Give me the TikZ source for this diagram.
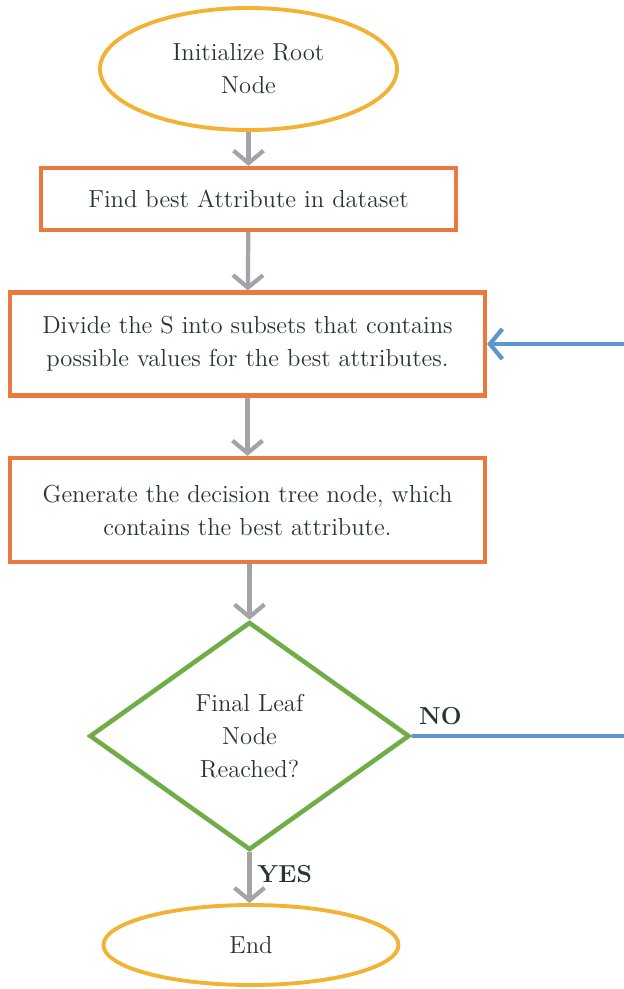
\documentclass[tikz,border=0pt]{standalone}
\usetikzlibrary{shapes.geometric,arrows.meta}

\definecolor{termcol}{HTML}{F2B233}
\definecolor{boxcol}{HTML}{E9793F}
\definecolor{deccol}{HTML}{70AD47}
\definecolor{flowcol}{HTML}{A3A3A8}
\definecolor{backcol}{HTML}{5B96CC}
\definecolor{txtcol}{HTML}{26382C}

\begin{document}
\begin{tikzpicture}[scale=1,
	every node/.style={text=txtcol, font=\rmfamily\fontsize{14}{18.8}\selectfont},
	term/.style={ellipse, draw=termcol, line width=2.2pt, inner sep=0pt, align=center},
	procbox/.style={rectangle, draw=boxcol, line width=2.4pt, align=center, minimum width=9.5cm, minimum height=2.06cm},
	decide/.style={diamond, draw=deccol, line width=2.6pt, inner sep=0pt, align=center, minimum width=6.4cm, minimum height=4.56cm},
	flow/.style={draw=flowcol, line width=2.4pt, -{Straight Barb[length=2.5mm,width=6mm,line width=2.4pt]}},
	back/.style={draw=backcol, line width=2.4pt, -{Straight Barb[length=2.5mm,width=6mm,line width=2.4pt]}}]

	\useasboundingbox (0,0) rectangle (12.48,-19.78);

	% nodes
	\node[term, minimum width=5.94cm, minimum height=2.44cm] (root) at (4.97,-1.38) {Initialize Root\\Node};
	\node[procbox, minimum width=8.3cm, minimum height=1.24cm] (find) at (4.97,-3.98) {Find best Attribute in dataset};
	\node[procbox] (divide) at (4.95,-6.88) {Divide the S into subsets that contains\\possible values for the best attributes.};
	\node[procbox, minimum height=2.08cm] (gen) at (4.95,-10.2) {Generate the decision tree node, which\\contains the best attribute.};
	\node[decide] (leaf) at (4.99,-14.72) {Final Leaf\\Node\\Reached?};
	\node[term, minimum width=5.9cm, minimum height=1.6cm] (stop) at (5.02,-18.9) {End};

	% arrows
	\draw[flow] (root) -- (find);
	\draw[flow] (find) -- (divide);
	\draw[flow] (divide) -- (gen);
	\draw[flow] (gen.south -| leaf.north) -- (leaf.north);
	\draw[flow] (leaf.south) -- node[right, font=\rmfamily\fontsize{14}{18.8}\selectfont\bfseries, yshift=2pt] (yes) {YES} (leaf.south |- stop.north);

	% loop back
	\draw[back] (leaf.east) -- node[pos=0.12, above, font=\rmfamily\fontsize{14}{18.8}\selectfont\bfseries, yshift=2pt] (no) {NO} (13,-14.72) |- (divide.east);

\end{tikzpicture}
\end{document}
